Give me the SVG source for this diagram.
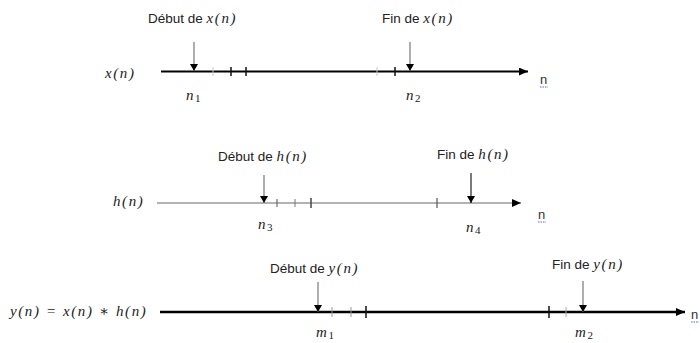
<svg xmlns="http://www.w3.org/2000/svg" width="700" height="343" viewBox="0 0 700 343">
<defs>
<style>
.t{font-family:"Liberation Sans","DejaVu Sans",sans-serif;font-size:13.5px;fill:#222}
.m{font-family:"Liberation Serif","DejaVu Serif",serif;font-style:italic;font-size:15px;letter-spacing:1.6px;fill:#222}
.axis{stroke:#000;stroke-width:2;fill:none}
.axisg{stroke:#9a9a9a;stroke-width:1.5;fill:none}
.tick{stroke:#111;stroke-width:1.5}
.tickf{stroke:#c8c8c8;stroke-width:1}
.ptr{stroke:#777;stroke-width:1.2;fill:none}
.nl{font-family:"Liberation Sans","DejaVu Sans",sans-serif;font-size:13px;fill:#333}
.ul{stroke:#4a6cf0;stroke-width:1.2;stroke-dasharray:1.5 1}
.sub{font-size:11px;font-style:normal;letter-spacing:0}
</style>
<marker id="ah" markerWidth="10" markerHeight="8" refX="9" refY="4" orient="auto" markerUnits="userSpaceOnUse">
<path d="M0,0 L9,4 L0,8 Z" fill="#000"/>
</marker>
<marker id="dh" markerWidth="8" markerHeight="7" refX="4" refY="7" orient="0" markerUnits="userSpaceOnUse">
<path d="M0,0 L8,0 L4,7 Z" fill="#000"/>
</marker>
</defs>

<g id="connectors">
<line class="axis" x1="161" y1="71.5" x2="528" y2="71.5" marker-end="url(#ah)"/>
<line class="tickf" x1="213" y1="67" x2="213" y2="76"/>
<line class="tick" x1="231" y1="67" x2="231" y2="76"/>
<line class="tick" x1="246" y1="67" x2="246" y2="76"/>
<line class="tickf" x1="377" y1="67" x2="377" y2="76"/>
<line class="tick" x1="395" y1="67" x2="395" y2="76"/>
<line class="ptr" x1="194" y1="42" x2="194" y2="71" marker-end="url(#dh)"/>
<line class="ptr" x1="410" y1="42" x2="410" y2="71" marker-end="url(#dh)"/>
<line class="axisg" x1="157" y1="203" x2="521" y2="203" marker-end="url(#ah)"/>
<line x1="277" y1="199" x2="277" y2="207" style="stroke:#555;stroke-width:1"/>
<line x1="295" y1="199" x2="295" y2="207" style="stroke:#777;stroke-width:1"/>
<line x1="311" y1="198" x2="311" y2="208" style="stroke:#444;stroke-width:1.5"/>
<line x1="437" y1="198" x2="437" y2="208" style="stroke:#555;stroke-width:1.2"/>
<line class="ptr" x1="264" y1="175" x2="264" y2="203" marker-end="url(#dh)"/>
<line class="ptr" x1="471" y1="173" x2="471" y2="203" style="stroke:#222" marker-end="url(#dh)"/>
<line class="axis" x1="160" y1="312" x2="685" y2="312" style="stroke-width:2.4" marker-end="url(#ah)"/>
<line class="tickf" x1="332" y1="307" x2="332" y2="317" style="stroke:#999"/>
<line class="tickf" x1="351" y1="307" x2="351" y2="317" style="stroke:#999"/>
<line class="tick" x1="366" y1="306" x2="366" y2="318"/>
<line class="tick" x1="549" y1="306" x2="549" y2="318"/>
<line class="tickf" x1="566" y1="307" x2="566" y2="317" style="stroke:#aaa"/>
<line class="ptr" x1="318" y1="282" x2="318" y2="312" marker-end="url(#dh)"/>
<line class="ptr" x1="583" y1="281" x2="583" y2="312" marker-end="url(#dh)"/>
</g>

<g id="signal-x">
<text class="m" x="105" y="78">x(n)</text>
<text x="148" y="23"><tspan class="t">Début de </tspan><tspan class="m">x(n)</tspan></text>
<text x="382" y="23"><tspan class="t">Fin de </tspan><tspan class="m">x(n)</tspan></text>
<text class="m" x="186" y="100">n<tspan class="sub" dy="2">1</tspan></text>
<text class="m" x="406" y="100">n<tspan class="sub" dy="2">2</tspan></text>
<text class="nl" x="540" y="84">n</text>
<line class="ul" x1="540" y1="87" x2="548" y2="87"/>
</g>

<g id="signal-h">
<text class="m" x="113" y="206">h(n)</text>
<text x="218" y="161"><tspan class="t">Début de </tspan><tspan class="m">h(n)</tspan></text>
<text x="437" y="159"><tspan class="t">Fin de </tspan><tspan class="m">h(n)</tspan></text>
<text class="m" x="258" y="229">n<tspan class="sub" dy="2">3</tspan></text>
<text class="m" x="466" y="232">n<tspan class="sub" dy="2">4</tspan></text>
<text class="nl" x="538" y="219">n</text>
<line class="ul" x1="538" y1="222" x2="546" y2="222"/>
</g>

<g id="signal-y">
<text class="m" x="10" y="316">y(n) = x(n) ∗ h(n)</text>
<text x="270" y="273"><tspan class="t">Début de </tspan><tspan class="m">y(n)</tspan></text>
<text x="552" y="269"><tspan class="t">Fin de </tspan><tspan class="m">y(n)</tspan></text>
<text class="m" x="316" y="337">m<tspan class="sub" dy="2">1</tspan></text>
<text class="m" x="575" y="337">m<tspan class="sub" dy="2">2</tspan></text>
<text class="nl" x="691" y="319">n</text>
<line class="ul" x1="691" y1="322" x2="699" y2="322"/>
</g>
</svg>
